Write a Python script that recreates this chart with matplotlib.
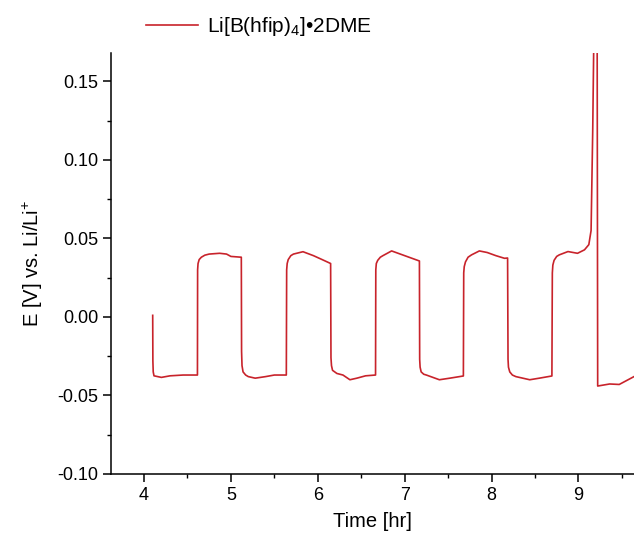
import matplotlib
matplotlib.use("Agg")
import matplotlib.pyplot as plt
from matplotlib.ticker import MultipleLocator

plt.rcParams['font.family'] = ['Liberation Sans', 'DejaVu Sans']
plt.rcParams['mathtext.fontset'] = 'custom'
plt.rcParams['mathtext.rm'] = 'Liberation Sans'
plt.rcParams['mathtext.it'] = 'Liberation Sans:italic'

# ── 数据─────────────────────────────────────
time_hr = [4.100, 4.102, 4.106, 4.115, 4.200, 4.300, 4.450, 4.615,
           4.617, 4.622, 4.635, 4.660, 4.700, 4.750, 4.870, 4.950, 5.000, 5.120,
           5.123, 5.128, 5.140, 5.170, 5.200, 5.280, 5.400, 5.500, 5.638,
           5.642, 5.648, 5.660, 5.690, 5.720, 5.830, 5.950, 6.050, 6.148,
           6.152, 6.158, 6.170, 6.220, 6.290, 6.370, 6.450, 6.550, 6.665,
           6.668, 6.674, 6.690, 6.720, 6.750, 6.850, 6.950, 7.050, 7.170,
           7.173, 7.178, 7.190, 7.220, 7.250, 7.400, 7.520, 7.676,
           7.680, 7.686, 7.700, 7.730, 7.770, 7.860, 7.950, 8.050, 8.150, 8.185,
           8.190, 8.195, 8.210, 8.240, 8.280, 8.440, 8.550, 8.695,
           8.700, 8.706, 8.720, 8.750, 8.780, 8.880, 8.990, 9.070, 9.120, 9.146,
           9.165, 9.176, 9.185, 9.210,
           9.222, 9.360, 9.470, 9.640]
potential_V = [0.001, -0.028, -0.035, -0.0375, -0.0385, -0.0375, -0.037, -0.037,
               0.030, 0.034, 0.0365, 0.038, 0.0393, 0.040, 0.0405, 0.040, 0.0385, 0.038,
               -0.022, -0.031, -0.035, -0.037, -0.038, -0.039, -0.038, -0.037, -0.037,
               0.030, 0.034, 0.0365, 0.039, 0.040, 0.0415, 0.039, 0.0365, 0.034,
               -0.026, -0.031, -0.034, -0.036, -0.037, -0.040, -0.039, -0.0375, -0.037,
               0.030, 0.034, 0.036, 0.038, 0.039, 0.042, 0.040, 0.038, 0.0356,
               -0.027, -0.032, -0.035, -0.0365, -0.037, -0.040, -0.039, -0.0376,
               0.028, 0.032, 0.035, 0.038, 0.0395, 0.042, 0.041, 0.039, 0.0373, 0.0375,
               -0.027, -0.032, -0.035, -0.037, -0.038, -0.040, -0.039, -0.0376,
               0.028, 0.033, 0.036, 0.0385, 0.0395, 0.0416, 0.0405, 0.0427, 0.046, 0.055,
               0.119, 0.170, 0.400, 0.400,
               -0.044, -0.0427, -0.043, -0.038]

label = r"Li[B(hfip)$_4$]•2DME"

fig = plt.figure(figsize=(6.34, 5.43), dpi=100)
ax = fig.add_axes([111 / 634, 69 / 543, 1 - 111 / 634, 421 / 543])

ax.plot(time_hr, potential_V, color='#C8232B', lw=1.2, label=label)

ax.set_xlim(3.62, 9.64)
ax.set_ylim(-0.10, 0.168)
ax.xaxis.set_major_locator(MultipleLocator(1))
ax.xaxis.set_minor_locator(MultipleLocator(0.5))
ax.yaxis.set_major_locator(MultipleLocator(0.05))
ax.yaxis.set_minor_locator(MultipleLocator(0.025))
ax.yaxis.set_major_formatter(plt.FormatStrFormatter('%.2f'))

for s in ('top', 'right'):
    ax.spines[s].set_visible(False)
for s in ('left', 'bottom'):
    ax.spines[s].set_linewidth(1.1)
ax.tick_params(which='major', direction='out', length=5.5, width=1.1, labelsize=13)
ax.tick_params(which='minor', direction='out', length=3, width=1.0)

ax.set_xlabel("Time [hr]", fontsize=14.5, labelpad=6)
ax.set_ylabel(r"E [V] vs. Li/Li$^{+}$", fontsize=14.5, labelpad=9)

fig.legend(loc='center left', bbox_to_anchor=(146 / 634, 1 - 27 / 543),
           frameon=False, borderpad=0, borderaxespad=0, fontsize=15,
           handlelength=2.5, handletextpad=0.45)

fig.savefig("out.png", dpi=100)
